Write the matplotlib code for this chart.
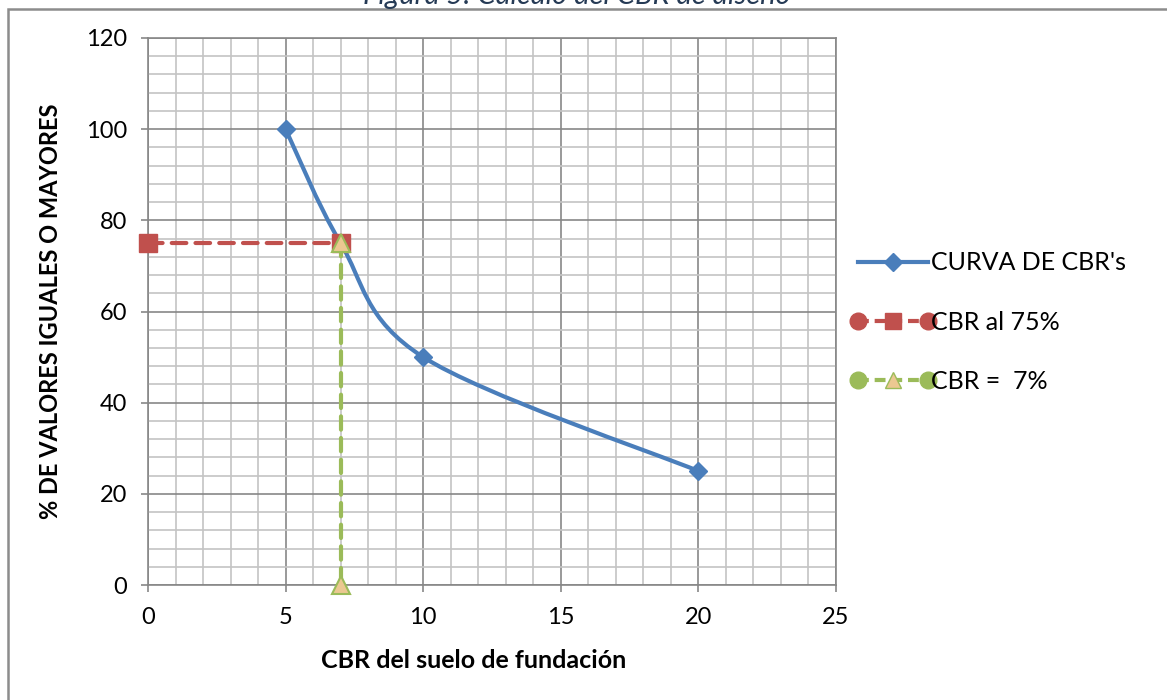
import numpy as np
import matplotlib
matplotlib.use('Agg')
import matplotlib.pyplot as plt
from matplotlib.path import Path
from matplotlib.patches import PathPatch, Rectangle
from matplotlib.lines import Line2D
from matplotlib.legend_handler import HandlerLine2D, HandlerTuple
from matplotlib.ticker import MultipleLocator

plt.rcParams['font.family'] = ['Lato', 'DejaVu Sans']

# Datos #######################################################################
cbr_x = [5, 7, 10, 20]          # CBR
cbr_y = [100, 75, 50, 25]       # % de valores iguales o mayores
h75_x = [0, 7]                  # linea horizontal al 75%
h75_y = [75, 75]
v7_x  = [7, 7]                  # linea vertical CBR = 7
v7_y  = [75, 0]
etiquetas = ["CURVA DE CBR's", "CBR al 75%", "CBR =  7%"]
titulo = 'Figura 5: Cálculo del CBR de diseño'

azul, rojo, verde, crema = '#4A7EBB', '#C0504D', '#9BBB59', '#EBC891'
gris_mayor, gris_menor = '#878787', '#C4C4C4'

W, H = 1167, 700
fig = plt.figure(figsize=(W/100, H/100), dpi=100)
ax = fig.add_axes([148/W, 1-585/H, 688/W, 547/H])

ax.set_xlim(0, 25)
ax.set_ylim(0, 120)
ax.xaxis.set_major_locator(MultipleLocator(5))
ax.xaxis.set_minor_locator(MultipleLocator(1))
ax.yaxis.set_major_locator(MultipleLocator(20))
ax.yaxis.set_minor_locator(MultipleLocator(4))
ax.grid(which='minor', color=gris_menor, lw=1.2, zorder=0)
ax.grid(which='major', color=gris_mayor, lw=1.2, zorder=0.5)
ax.set_axisbelow(True)
for s in ax.spines.values():
    s.set_color(gris_mayor)
    s.set_linewidth(1.2)
ax.tick_params(which='major', direction='out', length=5, width=1.2,
               color=gris_mayor, labelsize=17)
ax.tick_params(axis='y', which='major', pad=10)
ax.tick_params(axis='x', which='major', pad=11)
ax.tick_params(which='minor', length=0)

# Curva suavizada (tipo Excel) ################################################
pts = ax.transData.transform(np.column_stack([cbr_x, cbr_y]))
ext = np.vstack([pts[0], pts, pts[-1]])
verts, codes = [pts[0]], [Path.MOVETO]
for i in range(1, len(ext) - 2):
    p0, p1, p2, p3 = ext[i-1], ext[i], ext[i+1], ext[i+2]
    verts += [p1 + (p2 - p0)/6, p2 - (p3 - p1)/6, p2]
    codes += [Path.CURVE4]*3
verts = ax.transData.inverted().transform(np.array(verts))
ax.add_patch(PathPatch(Path(verts, codes), fill=False, edgecolor=azul,
                       lw=3, capstyle='round', zorder=3))
ax.plot(cbr_x, cbr_y, ls='none', marker='D', ms=9, color=azul, zorder=4)

# Lineas de lectura ###########################################################
ax.plot(h75_x, h75_y, ls=(0, (3.5, 2.2)), lw=3, color=rojo, marker='s', ms=13,
        dash_capstyle='round', zorder=5, clip_on=False)
ax.plot(v7_x, v7_y, ls=(0, (3.2, 2.0)), lw=3, color=verde, marker='^', ms=13,
        mfc=crema, mec=verde, mew=1.5, dash_capstyle='round', zorder=6, clip_on=False)

# Leyenda #####################################################################
h_azul = Line2D([], [], color=azul, lw=3, marker='D', ms=9)
r_lin = Line2D([], [], color=rojo, lw=3, ls=(0, (2.6, 1.4)))
r_circ = Line2D([], [], color=rojo, ls='none', marker='o', ms=12)
r_sq = Line2D([], [], color=rojo, ls='none', marker='s', ms=12)
v_lin = Line2D([], [], color=verde, lw=3, ls=(0, (2.6, 1.4)))
v_circ = Line2D([], [], color=verde, ls='none', marker='o', ms=12)
v_tri = Line2D([], [], color=verde, ls='none', marker='^', ms=12, mfc=crema, mec=verde)
hmap = {r_circ: HandlerLine2D(numpoints=2, marker_pad=0),
        v_circ: HandlerLine2D(numpoints=2, marker_pad=0),
        tuple: HandlerTuple(ndivide=1)}
fig.legend([h_azul, (r_lin, r_circ, r_sq), (v_lin, v_circ, v_tri)], etiquetas,
           loc='center left', bbox_to_anchor=(835/W, 1-322/H), frameon=False,
           fontsize=18, handlelength=2.8, handletextpad=0.15, labelspacing=1.45,
           numpoints=1, handler_map=hmap)

# Textos ######################################################################
ax.set_ylabel('% DE VALORES IGUALES O MAYORES', fontsize=17, fontweight='bold')
ax.yaxis.set_label_coords(-(148-62)/688, 0.5)
fig.text(474/W, 1-661/H, 'CBR del suelo de fundación', fontsize=18,
         fontweight='bold', ha='center', va='center')
fig.text(577/W, 1-4/H, titulo, fontsize=21, style='italic', color='#253A55',
         ha='center', va='baseline')

# Marco del grafico
fig.add_artist(Rectangle((8/W, -0.05), 1.2, 1.05-9/H, transform=fig.transFigure,
                         fill=False, edgecolor='#8C8C8C', lw=1.8))

fig.savefig('out.png', dpi=100)
